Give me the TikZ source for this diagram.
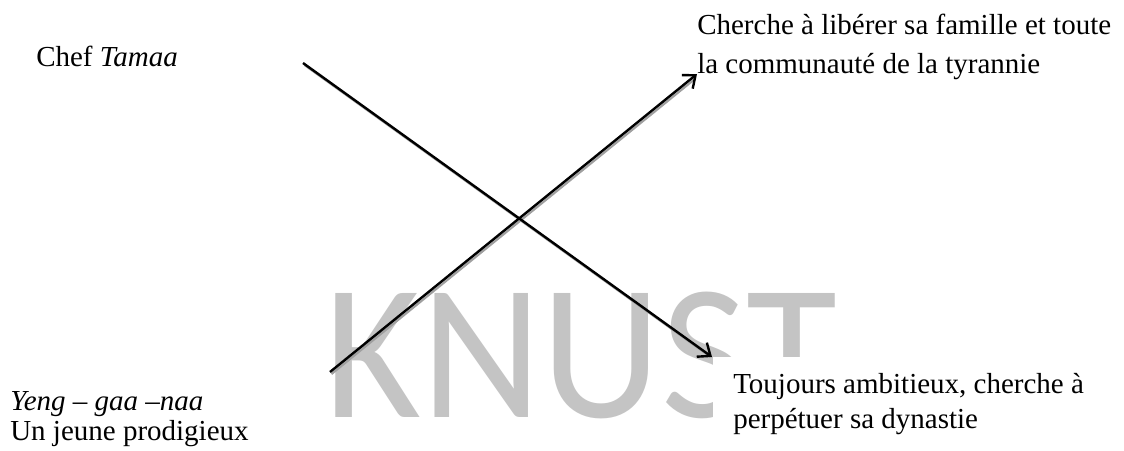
\documentclass[tikz,border=0pt]{standalone}
\usepackage{fontspec}
\setmainfont{Liberation Serif}
\newfontfamily\markfont{Carlito}
\usetikzlibrary{arrows.meta}
\definecolor{markgray}{RGB}{196,196,196}
\definecolor{shadowgray}{RGB}{160,160,160}
\tikzset{
  captiontext/.style={anchor=base west, inner sep=0pt, font=\fontsize{21.75}{29}\selectfont},
  wmark/.style={anchor=base west, inner sep=0pt, text=markgray, xscale=0.965, font=\markfont\fontsize{145}{160}\selectfont},
  link/.style={line width=1.8pt, -{Straight Barb[length=8pt,width=13pt]}},
  linkshadow/.style={line width=1.6pt, shadowgray, shorten >=3pt},
  cover/.style={fill=white, draw=none}
}
\begin{document}
\begin{tikzpicture}[x=0.75pt, y=-0.75pt]
  \fill[white] (0,0) rectangle (1124,450);
  \useasboundingbox (0,0) rectangle (1124,450);

  % watermark lettering
  \node[wmark] (wm) at (324,417) {KNUST};
  % white panel behind the lower right caption
  \fill[cover] (713,357) rectangle (1124,450);

  % end points of the two crossing arrows
  \coordinate (chefA) at (303,63);
  \coordinate (chefB) at (712,357);
  \coordinate (yengA) at (330,372);
  \coordinate (yengB) at (697,74);

  % soft shadows under the arrows
  \draw[linkshadow] ([shift={(1.5,2)}]chefA) -- ([shift={(1.5,2)}]chefB);
  \draw[linkshadow] ([shift={(1.5,2)}]yengA) -- ([shift={(1.5,2)}]yengB);
  % arrows
  \draw[link] (chefA) -- (chefB);
  \draw[link] (yengA) -- (yengB);

  % captions
  \node[captiontext] (chef) at (36,66) {Chef \textit{Tamaa}};
  \node[captiontext] (libA) at (697,34) {Cherche à libérer sa famille et toute};
  \node[captiontext] (libB) at (697,73) {la communauté de la tyrannie};
  \node[captiontext] (yeng) at (10,410) {\textit{Yeng – gaa –naa}};
  \node[captiontext] (jeune) at (10,440) {Un jeune prodigieux};
  \node[captiontext] (toujA) at (733,393) {Toujours ambitieux, cherche à};
  \node[captiontext] (toujB) at (733,428) {perpétuer sa dynastie};
\end{tikzpicture}
\end{document}
